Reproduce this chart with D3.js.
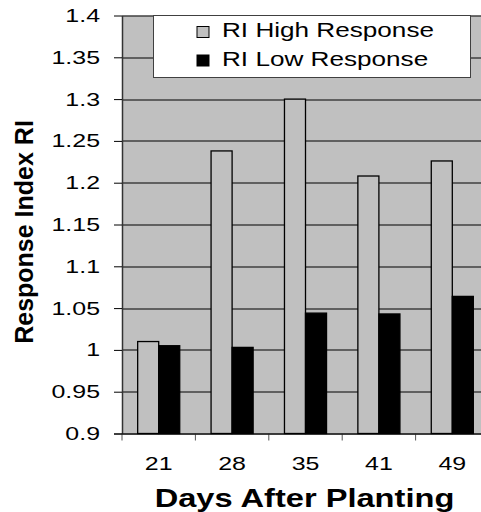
<!DOCTYPE html>
<html>
<head>
<meta charset="utf-8">
<script src="https://cdn.jsdelivr.net/npm/d3@7/dist/d3.min.js"></script>
<style>
  body { margin: 0; background: #fff; }
  text { font-family: Arial, "Liberation Sans", sans-serif; fill: #000; }
</style>
</head>
<body>
<div id="chart"></div>
<script>
// data
const days = ['21', '28', '35', '41', '49'];
const seriesNames = ['RI High Response', 'RI Low Response'];
const highResponse = [1.01, 1.238, 1.30, 1.208, 1.226];
const lowResponse = [1.005, 1.003, 1.044, 1.043, 1.064];
const yTicks = [0.9, 0.95, 1, 1.05, 1.1, 1.15, 1.2, 1.25, 1.3, 1.35, 1.4];
const seriesColors = ['#c0c0c0', '#000000'];

const margin = { top: 15.5, left: 122 };
const width = 367;
const height = 418;
const sx = 1.34;  // the text in the original is stretched sideways

const svg = d3.select('#chart')
  .append('svg')
  .attr('width', 481)
  .attr('height', 512);

const g = svg.append('g')
  .attr('transform', `translate(${margin.left}, ${margin.top})`);

const x = d3.scaleBand()
  .domain(days)
  .range([0, width])
  .padding(0);

const x1 = d3.scaleBand()
  .domain(seriesNames)
  .range([0, x.bandwidth()])
  .paddingInner(0)
  .paddingOuter(0.745);

const y = d3.scaleLinear()
  .domain([0.9, 1.4])
  .range([height, 0]);

// plot background
g.append('rect')
  .attr('x', 0)
  .attr('y', 0)
  .attr('width', width)
  .attr('height', height)
  .attr('fill', '#c0c0c0');

// gridlines
g.selectAll('.grid')
  .data(yTicks)
  .enter()
  .append('line')
  .attr('x1', 0)
  .attr('x2', width)
  .attr('y1', d => Math.round(y(d)) + 0.5)
  .attr('y2', d => Math.round(y(d)) + 0.5)
  .attr('stroke', '#000')
  .attr('stroke-width', 1);

// bars
const rows = days.map((d, i) => ({ day: d, values: [highResponse[i], lowResponse[i]] }));

const groups = g.selectAll('.day')
  .data(rows)
  .enter()
  .append('g')
  .attr('transform', d => `translate(${x(d.day)}, 0)`);

groups.selectAll('rect')
  .data(d => d.values.map((v, j) => ({ name: seriesNames[j], value: v, color: seriesColors[j] })))
  .enter()
  .append('rect')
  .attr('x', d => x1(d.name))
  .attr('y', d => y(d.value))
  .attr('width', x1.bandwidth())
  .attr('height', d => height - y(d.value))
  .attr('fill', d => d.color)
  .attr('stroke', '#000')
  .attr('stroke-width', 1.3);

// y axis
const yAxis = g.append('g')
  .call(d3.axisLeft(y)
    .tickValues(yTicks)
    .tickSize(8)
    .tickSizeOuter(0)
    .tickPadding(14)
    .tickFormat(d => String(+d.toFixed(2))));

yAxis.select('.domain').attr('stroke', '#333').attr('stroke-width', 1.5);
yAxis.selectAll('.tick line').attr('stroke', '#000');
yAxis.selectAll('.tick text')
  .style('font-size', '18.6px')
  .attr('fill', '#000')
  .attr('transform', function () {
    return `translate(${d3.select(this).attr('x')}, 0) scale(${sx}, 1)`;
  })
  .attr('x', 0);

// x axis: labels centred in each band, ticks on band edges
const xAxis = g.append('g')
  .attr('transform', `translate(0, ${height})`)
  .call(d3.axisBottom(x).tickSize(0).tickPadding(23));

xAxis.select('.domain').remove();
xAxis.selectAll('.tick text')
  .style('font-size', '18.6px')
  .attr('fill', '#000')
  .attr('transform', `scale(${sx}, 1)`);

xAxis.selectAll('.edge')
  .data(days)
  .enter()
  .append('line')
  .attr('x1', d => x(d))
  .attr('x2', d => x(d))
  .attr('y1', 0)
  .attr('y2', 7)
  .attr('stroke', '#555');

xAxis.append('line')
  .attr('x1', -8)
  .attr('x2', width)
  .attr('y1', 0.5)
  .attr('y2', 0.5)
  .attr('stroke', '#000');

// axis titles
svg.append('text')
  .attr('transform', `translate(${margin.left + width / 2 - 1}, 506.5) scale(1.28, 1)`)
  .attr('text-anchor', 'middle')
  .style('font-size', '25.5px')
  .style('font-weight', 'bold')
  .text('Days After Planting');

svg.append('text')
  .attr('transform', 'translate(33, 232) rotate(-90)')
  .attr('text-anchor', 'middle')
  .style('font-size', '25px')
  .style('font-weight', 'bold')
  .text('Response Index RI');

// legend
const legend = svg.append('g');

legend.append('rect')
  .attr('x', 153.5)
  .attr('y', 15.5)
  .attr('width', 317)
  .attr('height', 62)
  .attr('fill', '#fff')
  .attr('stroke', '#404040');

const items = legend.selectAll('.item')
  .data(seriesNames)
  .enter()
  .append('g')
  .attr('transform', (d, i) => `translate(197, ${26.5 + i * 28.5})`);

items.append('rect')
  .attr('width', 12)
  .attr('height', 11)
  .attr('fill', (d, i) => seriesColors[i])
  .attr('stroke', '#000');

items.append('text')
  .attr('transform', `translate(25, 10.5) scale(${sx}, 1)`)
  .style('font-size', '19.5px')
  .text(d => d);
</script>
</body>
</html>
